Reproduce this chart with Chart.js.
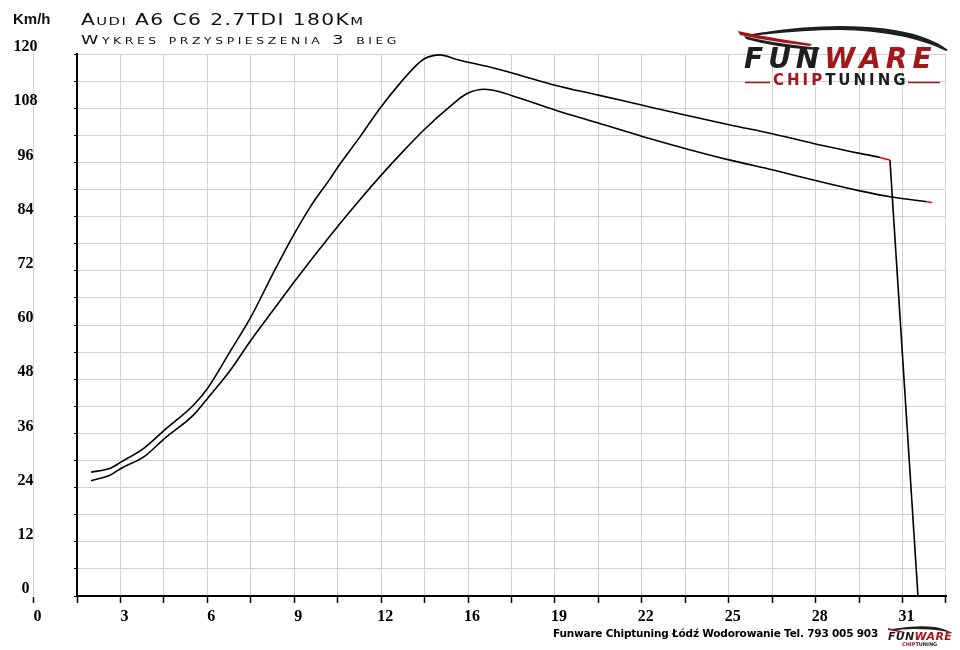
<!DOCTYPE html>
<html>
<head>
<meta charset="utf-8">
<script src="https://cdn.jsdelivr.net/npm/chart.js@4.4.1/dist/chart.umd.min.js"></script>
<style>
  html, body { margin: 0; padding: 0; background: #fff; }
  #wrap { position: relative; width: 960px; height: 650px; overflow: hidden; }
  #wrap canvas { position: absolute; left: 0; top: 0; }
  .txt { position: absolute; white-space: nowrap; color: #111; }
  #unit { left: 13px; top: 10px; font: bold 15px "Liberation Sans", sans-serif; }
  #title1, #title2 { font-family: "DejaVu Sans", sans-serif; transform-origin: 0 0; }
  #title1 { left: 81px; top: 11px; font-size: 15px; letter-spacing: 1.05px; transform: scaleX(1.35); }
  #title2 { left: 81px; top: 32px; font-size: 13px; letter-spacing: 2.63px; transform: scaleX(1.35); }
  #title1 .sc { font-size: 11px; text-transform: uppercase; }
  #title2 .sc { font-size: 9.2px; text-transform: uppercase; }
  #footer { left: 553px; top: 627px; font: bold 10.5px "DejaVu Sans", sans-serif; letter-spacing: -0.2px; color: #000; }
  .fw { position: absolute; font-family: "DejaVu Sans", sans-serif; font-weight: bold; font-style: italic; white-space: nowrap; }
  .dark { color: #1e1e1e; }
  .red { color: #a3161a; }
</style>
</head>
<body>
<div id="wrap">
  <canvas id="chart" width="960" height="650"></canvas>
  <div class="txt" id="unit">Km/h</div>
  <div class="txt" id="title1">A<span class="sc">udi</span> A6 C6 2.7TDI 180K<span class="sc">m</span></div>
  <div class="txt" id="title2">W<span class="sc">ykres</span> <span class="sc">przyspieszenia</span> 3 <span class="sc">bieg</span></div>

  <!-- logo -->
  <svg style="position:absolute;left:0;top:0" width="960" height="650">
    <path d="M752 34 Q800 26 840 26 Q890 26 920 36 Q938 42 948 50 L946 51 Q930 43 905 37 Q870 30 840 30 Q800 30 752 36 Z" fill="#1e1e1e"/>
    <path d="M738 31 Q770 38 812 44 L810 46 Q772 42 740 35 Z" fill="#a3161a"/>
    <path d="M744 36 Q775 44 820 48 L818 50 Q778 48 746 39 Z" fill="#1e1e1e"/>
    <line x1="745" y1="82.5" x2="770" y2="82.5" stroke="#a3161a" stroke-width="1.5"/>
    <line x1="908" y1="82.5" x2="940" y2="82.5" stroke="#a3161a" stroke-width="1.5"/>
    <path d="M892 629 Q915 625 935 627 Q945 629 950 632 L948 632 Q935 629 915 629 Q900 629 892 631 Z" fill="#1e1e1e"/>
    <path d="M888 628 L905 632 L904 633 L888 630 Z" fill="#a3161a"/>
  </svg>
  <div class="fw" style="left:744px;top:42px;font-size:28px;letter-spacing:5px"><span class="dark">FUN</span><span class="red">WARE</span></div>
  <div class="fw" style="left:773px;top:71px;font-size:15px;font-style:normal;letter-spacing:3px"><span class="red">CHIP</span><span class="dark">TUNING</span></div>
  <div class="fw" style="left:888px;top:630px;font-size:11px;letter-spacing:0.3px"><span class="dark">FUN</span><span class="red">WARE</span></div>
  <div class="fw" style="left:902px;top:641px;font-size:5px;font-style:normal"><span class="red">CHIP</span><span class="dark">TUNING</span></div>

  <div class="txt" id="footer">Funware Chiptuning Łódź Wodorowanie Tel. 793 005 903</div>
</div>
<script>
// czas [s] i predkosc [km/h] - po modyfikacji (gorna krzywa)
const tunedTime  = [2.05, 2.74, 3.13, 3.93, 4.68, 5.71, 6.21, 7.02, 7.73, 8.61, 9.33, 9.92, 10.57, 10.87, 11.65, 12.36, 13.07, 13.67, 13.96, 14.50, 15.10, 16.28, 17.35, 18.60, 20.15, 21.69, 23.24, 24.85, 26.39, 27.82, 29.48, 30.20, 30.55];
const tunedSpeed = [27.4, 28.3, 29.7, 32.7, 36.8, 42.3, 46.0, 54.2, 61.5, 72.2, 80.5, 86.6, 92.3, 95.1, 101.7, 108.0, 113.5, 117.6, 119.0, 119.8, 118.8, 117.1, 115.3, 113.1, 110.9, 108.7, 106.5, 104.3, 102.3, 100.2, 98.0, 97.1, 96.5];

// zejscie gazu po pomiarze
const dropTime  = [30.55, 31.55];
const dropSpeed = [96.5, 0];

// seria (dolna krzywa)
const stockTime  = [2.05, 2.74, 3.13, 3.93, 4.68, 5.71, 6.21, 7.02, 7.73, 8.55, 9.33, 10.10, 10.87, 11.65, 12.42, 13.19, 13.96, 14.86, 15.45, 16.10, 16.52, 17.35, 18.60, 20.15, 21.69, 23.24, 24.85, 26.39, 27.82, 29.48, 30.55, 31.86, 32.05];
const stockSpeed = [25.5, 26.8, 28.3, 30.8, 34.9, 40.1, 43.8, 50.0, 56.4, 63.3, 69.8, 76.0, 82.0, 87.8, 93.3, 98.5, 103.4, 108.4, 111.2, 112.2, 111.8, 110.2, 107.6, 104.7, 101.8, 99.1, 96.5, 94.3, 92.1, 89.7, 88.4, 87.3, 87.1];

// osie
const xTickLabels = ['0', '3', '6', '9', '12', '16', '19', '22', '25', '28', '31'];
const xGridStep = 1.55;
const xGridCount = 21;
const yTickLabels = [0, 12, 24, 36, 48, 60, 72, 84, 96, 108, 120];
const yGridStep = 6;

const toPoints = (xs, ys) => xs.map((x, i) => ({ x: x, y: ys[i] }));

// ostatni odcinek krzywej na czerwono
const redTail = (n) => (ctx) => ctx.p1DataIndex === n - 1 ? '#ff0000' : undefined;

const tickFont = { family: '"Liberation Serif", serif', size: 16, weight: 'bold' };

const ctx = document.getElementById('chart');

new Chart(ctx, {
    type: 'line',
    data: {
        datasets: [
            {
                label: 'Po modyfikacji',
                data: toPoints(tunedTime, tunedSpeed),
                borderColor: '#000',
                borderWidth: 1.6,
                pointRadius: 0,
                cubicInterpolationMode: 'monotone',
                segment: { borderColor: redTail(tunedTime.length) }
            },
            {
                label: 'Zejscie',
                data: toPoints(dropTime, dropSpeed),
                borderColor: '#000',
                borderWidth: 1.6,
                pointRadius: 0,
                tension: 0
            },
            {
                label: 'Seria',
                data: toPoints(stockTime, stockSpeed),
                borderColor: '#000',
                borderWidth: 1.6,
                pointRadius: 0,
                cubicInterpolationMode: 'monotone',
                segment: { borderColor: redTail(stockTime.length) }
            }
        ]
    },
    options: {
        responsive: false,
        animation: false,
        layout: { padding: { top: 54, right: 14, left: 0, bottom: 0 } },
        plugins: {
            legend: { display: false },
            tooltip: { enabled: false }
        },
        scales: {
            x: {
                type: 'linear',
                min: xGridStep,
                max: xGridStep * xGridCount,
                afterBuildTicks: (scale) => {
                    const ticks = [{ value: 0 }];
                    for (let i = 1; i <= xGridCount; i++) {
                        ticks.push({ value: +(i * xGridStep).toFixed(2) });
                    }
                    scale.ticks = ticks;
                },
                afterFit: (scale) => { scale.height = 54; },
                ticks: {
                    autoSkip: false,
                    maxRotation: 0,
                    labelOffset: 4,
                    padding: 4,
                    color: '#000',
                    font: tickFont,
                    callback: (value, index) => index % 2 === 0 ? (xTickLabels[index / 2] || '') : ''
                },
                grid: { color: '#d2d2d2', lineWidth: 1, tickColor: '#000', tickLength: 7, tickWidth: 1.5 },
                border: { color: '#000', width: 2 }
            },
            y: {
                min: 0,
                max: 120,
                afterFit: (scale) => { scale.width = 77; },
                ticks: {
                    stepSize: yGridStep,
                    autoSkip: false,
                    labelOffset: -7,
                    crossAlign: 'center',
                    padding: 36.5,
                    color: '#000',
                    font: tickFont,
                    callback: (value) => yTickLabels.includes(value) ? value : ''
                },
                grid: { color: '#d2d2d2', lineWidth: 1, tickColor: '#000', tickLength: 3, tickWidth: 1 },
                border: { color: '#000', width: 2 }
            }
        }
    }
});
</script>
</body>
</html>
